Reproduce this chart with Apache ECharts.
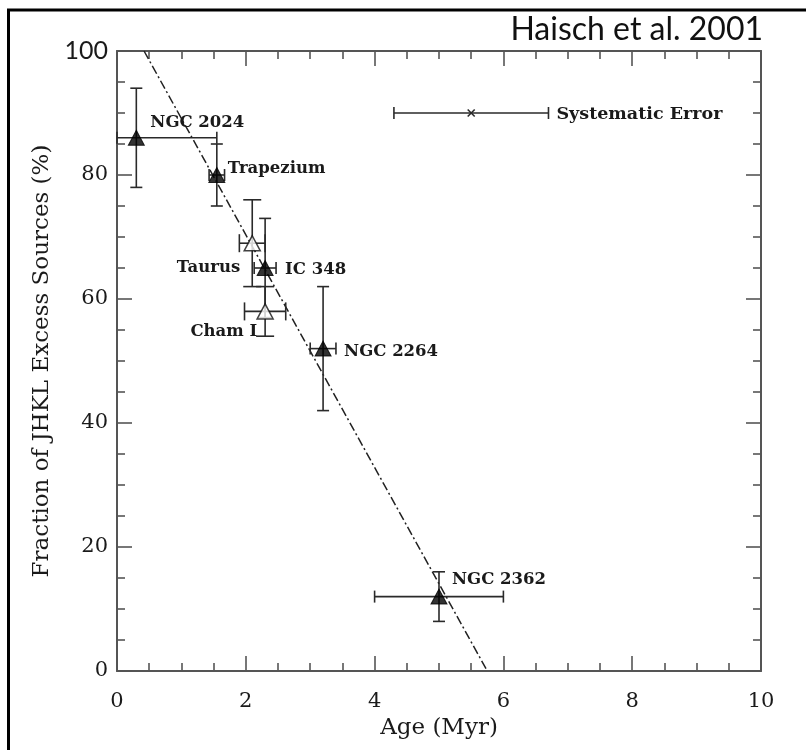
<!DOCTYPE html>
<html>
<head>
<meta charset="utf-8">
<script src="https://cdn.jsdelivr.net/npm/echarts@6/dist/echarts.min.js"></script>
<style>
  html, body { margin: 0; padding: 0; background: #fff; }
  #chart { width: 806px; height: 750px; }
</style>
</head>
<body>
<div id="chart"></div>
<script>
// Cluster measurements: disk fraction vs. age
const clusterNames = ['NGC 2024', 'Trapezium', 'Taurus', 'IC 348', 'Cham I', 'NGC 2264', 'NGC 2362'];
const ages         = [0.3, 1.55, 2.1, 2.3, 2.3, 3.2, 5.0];
const ageErrLow    = [0.3, 0.12, 0.2, 0.17, 0.32, 0.2, 1.0];
const ageErrHigh   = [1.25, 0.12, 0.2, 0.17, 0.32, 0.2, 1.0];
const fractions    = [86, 80, 69, 65, 58, 52, 12];
const fracErrLow   = [8, 5, 7, 8, 4, 10, 4];
const fracErrHigh  = [8, 5, 7, 8, 4, 10, 4];
const openSymbol   = [false, false, true, false, true, false, false];

// Systematic age uncertainty shown as a reference bar
const sysLabel = 'Systematic Error';
const sysAge = 5.5;
const sysFrac = 90;
const sysAgeErr = 1.2;

// Linear fit endpoints (age, fraction)
const fitLine = [[0.42, 100], [5.75, 0]];

// Axis settings
const xTicks = [0, 2, 4, 6, 8, 10];
const yTicks = [0, 20, 40, 60, 80, 100];
const xTitle = 'Age (Myr)';
const yTitle = 'Fraction of JHKL Excess Sources (%)';
const credit = 'Haisch et al. 2001';

const ink = '#1a1a1a';
const axisGrey = '#555';
const serif = '"DejaVu Serif", serif';
const labelFont = 'bold 16.5px ' + serif;

// Label placement around each marker: [dx, dy, align]
const labelPlace = [
  [14, -15, 'left'],
  [11, -6, 'left'],
  [-12, 25, 'right'],
  [20, 2, 'left'],
  [-8, 20, 'right'],
  [21, 3, 'left'],
  [13, -17, 'left']
];

const points = ages.map((a, i) => [a, fractions[i]]);
const errData = ages.map((a, i) => [a, fractions[i], a - ageErrLow[i], a + ageErrHigh[i],
  fractions[i] - fracErrLow[i], fractions[i] + fracErrHigh[i], openSymbol[i] ? 1 : 0]);

function errorBars(params, api) {
  const c = api.coord([api.value(0), api.value(1)]);
  const xl = api.coord([api.value(2), api.value(1)]);
  const xh = api.coord([api.value(3), api.value(1)]);
  const yl = api.coord([api.value(0), api.value(4)]);
  const yh = api.coord([api.value(0), api.value(5)]);
  const cap = api.value(6) ? 9 : 6;
  const style = { stroke: '#2a2a2a', lineWidth: 1.6 };
  const seg = (x1, y1, x2, y2) => ({ type: 'line', shape: { x1, y1, x2, y2 }, style });
  return {
    type: 'group',
    children: [
      seg(xl[0], c[1], xh[0], c[1]),
      seg(xl[0], c[1] - cap, xl[0], c[1] + cap),
      seg(xh[0], c[1] - cap, xh[0], c[1] + cap),
      seg(c[0], yl[1], c[0], yh[1]),
      seg(c[0] - cap, yl[1], c[0] + cap, yl[1]),
      seg(c[0] - cap, yh[1], c[0] + cap, yh[1])
    ]
  };
}

function sysBar(params, api) {
  const c = api.coord([api.value(0), api.value(1)]);
  const lo = api.coord([api.value(0) - api.value(2), api.value(1)]);
  const hi = api.coord([api.value(0) + api.value(2), api.value(1)]);
  const style = { stroke: '#2a2a2a', lineWidth: 1.6 };
  const seg = (x1, y1, x2, y2) => ({ type: 'line', shape: { x1, y1, x2, y2 }, style });
  const k = 3.5;
  return {
    type: 'group',
    children: [
      seg(lo[0], c[1], hi[0], c[1]),
      seg(lo[0], c[1] - 6, lo[0], c[1] + 6),
      seg(hi[0], c[1] - 6, hi[0], c[1] + 6),
      seg(c[0] - k, c[1] - k, c[0] + k, c[1] + k),
      seg(c[0] - k, c[1] + k, c[0] + k, c[1] - k),
      {
        type: 'text',
        style: { x: hi[0] + 8, y: c[1] + 1, text: sysLabel, align: 'left', verticalAlign: 'middle',
          font: 'bold 17.5px ' + serif, fill: ink }
      }
    ]
  };
}

function nameLabels(params, api) {
  const i = params.dataIndex;
  const c = api.coord([api.value(0), api.value(1)]);
  const p = labelPlace[i];
  return {
    type: 'text',
    style: { x: c[0] + p[0], y: c[1] + p[1], text: clusterNames[i], align: p[2], verticalAlign: 'middle',
      font: labelFont, fill: ink }
  };
}

const axisCommon = {
  min: 0,
  axisLine: { show: true, onZero: false, lineStyle: { color: axisGrey, width: 2 } },
  axisTick: { show: true, inside: true, length: 15, lineStyle: { color: axisGrey, width: 1.6 } },
  minorTick: { show: true, splitNumber: 4, length: 8, lineStyle: { color: axisGrey, width: 1.6 } },
  splitLine: { show: false }
};

const chart = echarts.init(document.getElementById('chart'), null, { renderer: 'canvas' });
chart.setOption({
  backgroundColor: '#fff',
  animation: false,
  grid: { left: 117, top: 51, right: 45, bottom: 79 },
  xAxis: [
    Object.assign({}, axisCommon, {
      type: 'value', position: 'bottom', max: 10, interval: 2,
      name: xTitle, nameLocation: 'middle', nameGap: 35,
      nameTextStyle: { fontFamily: serif, fontSize: 23, color: ink },
      axisLabel: { show: true, margin: 20, fontFamily: serif, fontSize: 21, color: ink,
        customValues: xTicks }
    }),
    Object.assign({}, axisCommon, {
      type: 'value', position: 'top', max: 10, interval: 2, axisLabel: { show: false }
    })
  ],
  yAxis: [
    Object.assign({}, axisCommon, {
      type: 'value', position: 'left', max: 100, interval: 20,
      name: yTitle, nameLocation: 'middle', nameGap: 53, nameRotate: 90,
      nameTextStyle: { fontFamily: serif, fontSize: 23, color: ink },
      axisLabel: {
        show: true, margin: 9, color: ink, customValues: yTicks,
        formatter: v => v === 100 ? '{s|' + v + '}' : '{r|' + v + '}',
        rich: {
          r: { fontFamily: serif, fontSize: 21, color: ink },
          s: { fontFamily: 'Lato, sans-serif', fontSize: 25, color: ink }
        }
      }
    }),
    Object.assign({}, axisCommon, {
      type: 'value', position: 'right', max: 100, interval: 20, axisLabel: { show: false }
    })
  ],
  graphic: [
    { type: 'line', shape: { x1: 7, y1: 10, x2: 806, y2: 10 }, style: { stroke: '#000', lineWidth: 3 } },
    { type: 'line', shape: { x1: 8.5, y1: 9, x2: 8.5, y2: 750 }, style: { stroke: '#000', lineWidth: 3 } },
    { type: 'text', right: 43, top: 14,
      style: { text: credit, font: '32px Lato, sans-serif', fill: '#111' } }
  ],
  series: [
    {
      type: 'line', data: fitLine, symbol: 'none', z: 1,
      lineStyle: { color: '#222', width: 1.5, type: [9, 3, 2, 3] }
    },
    {
      type: 'custom', data: errData, renderItem: errorBars, z: 2,
      encode: { x: 0, y: 1 }
    },
    {
      type: 'custom', data: [[sysAge, sysFrac, sysAgeErr]], renderItem: sysBar, z: 2,
      encode: { x: 0, y: 1 }
    },
    {
      type: 'scatter', z: 3,
      data: points.map((p, i) => ({
        value: p,
        itemStyle: openSymbol[i]
          ? { color: '#fff', borderColor: '#111', borderWidth: 1.5 }
          : { color: '#000', borderColor: '#000', borderWidth: 1 }
      })),
      symbol: 'triangle', symbolSize: [16, 15]
    },
    {
      type: 'custom', data: points, renderItem: nameLabels, z: 4,
      encode: { x: 0, y: 1 }
    }
  ]
});
</script>
</body>
</html>
